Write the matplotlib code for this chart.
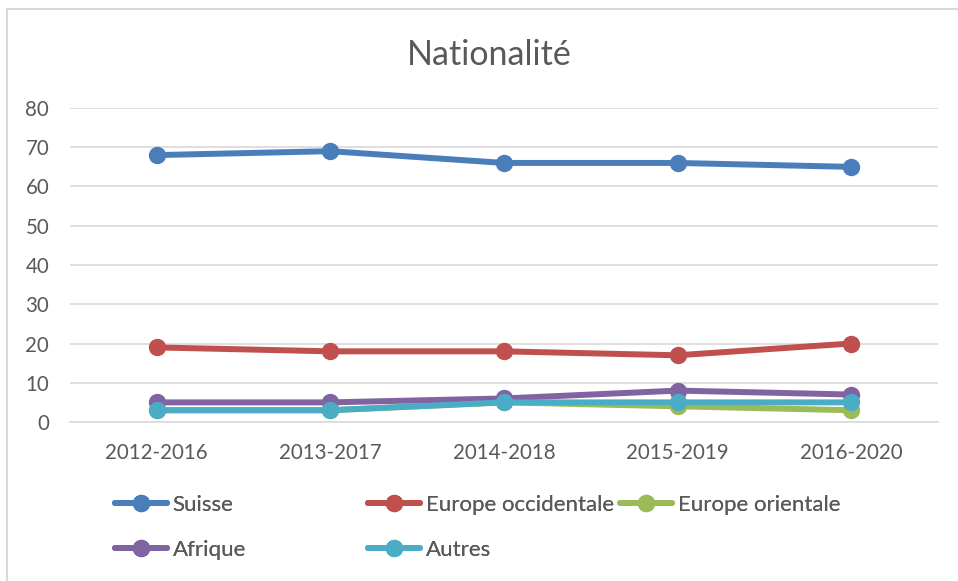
import matplotlib
matplotlib.use('Agg')
import matplotlib.pyplot as plt
from matplotlib.patches import Rectangle

periods = ['2012-2016', '2013-2017', '2014-2018', '2015-2019', '2016-2020']
suisse = [68, 69, 66, 66, 65]
europe_occ = [19, 18, 18, 17, 20]
europe_ori = [3, 3, 5, 4, 3]
afrique = [5, 5, 6, 8, 7]
autres = [3, 3, 5, 5, 5]

series = [
    ('Suisse', suisse, '#4A7EBB'),
    ('Europe occidentale', europe_occ, '#C0504D'),
    ('Europe orientale', europe_ori, '#9BBB59'),
    ('Afrique', afrique, '#8064A2'),
    ('Autres', autres, '#4BACC6'),
]

plt.rcParams['font.family'] = ['Lato', 'DejaVu Sans']
txt = '#595959'
grid = '#D9D9D9'
W, H = 958, 581

fig = plt.figure(figsize=(W / 100, H / 100), dpi=100)
ax = fig.add_axes([70 / W, 1 - 422 / H, 868 / W, 314 / H])

x = list(range(len(periods)))
handles = []
for name, vals, col in series:
    h, = ax.plot(x, vals, color=col, lw=4.3, marker='o', ms=11.5,
                 solid_capstyle='round', label=name, zorder=3)
    handles.append(h)

ax.set_xlim(-0.5, len(periods) - 0.5)
ax.set_ylim(0, 80)
ax.set_yticks(range(0, 81, 10))
ax.set_xticks(x)
ax.set_xticklabels(periods)
ax.tick_params(axis='both', length=0, labelsize=14.8, colors=txt)
ax.tick_params(axis='y', pad=15)
ax.tick_params(axis='x', pad=15)
ax.grid(axis='y', color=grid, lw=1.2, zorder=0)
for s in ['top', 'right', 'left']:
    ax.spines[s].set_visible(False)
ax.spines['bottom'].set_color(grid)
ax.spines['bottom'].set_linewidth(1.2)

fig.text(489 / W, 1 - 55 / H, 'Nationalité', ha='center', va='center',
         fontsize=24.5, color=txt)

# legend entries, laid out like the Excel legend
pos = [(115, 505), (368, 505), (620, 505), (115, 550), (368, 550)]
for h, (px, py) in zip(handles, pos):
    lg = fig.legend(handles=[h], loc='center left',
                    bbox_to_anchor=(px / W, 1 - py / H), frameon=False,
                    fontsize=16, labelcolor=txt, handlelength=2.35,
                    handletextpad=0.25, borderpad=0, borderaxespad=0)
    fig.add_artist(lg)

fig.patches.append(Rectangle((7 / W, -0.05), 1.1, 1 - 9 / H + 0.05,
                             transform=fig.transFigure, fill=False,
                             edgecolor='#D9D9D9', lw=1.5))

fig.savefig('out.png', dpi=100)
